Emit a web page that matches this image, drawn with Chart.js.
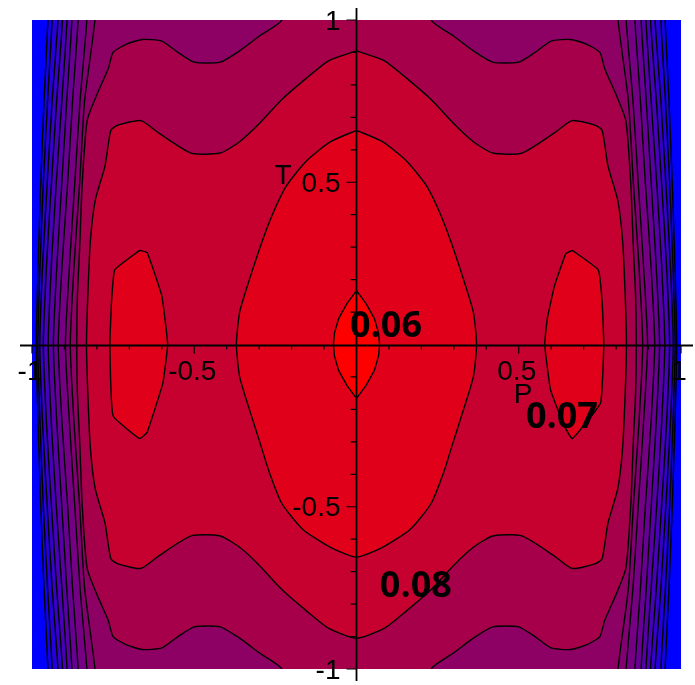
<!DOCTYPE html>
<html lang="en">
<head>
    <meta charset="UTF-8">
    <title>Contour plot of f(P, T)</title>
    <style>
        * {
            margin: 0;
            padding: 0;
            box-sizing: border-box;
        }

        body {
            background: #fff;
            width: 695px;
            height: 685px;
            overflow: hidden;
        }

        canvas {
            display: block;
        }
    </style>
    <script src="https://cdn.jsdelivr.net/npm/chart.js"></script>
</head>
<body>

    <canvas id="contourChart" width="695" height="685"></canvas>

    <script>
        // Outer contours: half-width in P of each level line, read at these T rows
        const rowT = [1, 0.75, 0.5, 0.25, 0, -0.25, -0.5, -0.75, -1];
        const edge1 = [0.951, 0.963, 0.973, 0.981, 0.987, 0.981, 0.973, 0.963, 0.951];
        const edge2 = [0.938, 0.952, 0.965, 0.975, 0.982, 0.975, 0.965, 0.952, 0.938];
        const edge3 = [0.920, 0.938, 0.953, 0.967, 0.976, 0.967, 0.953, 0.938, 0.920];
        const edge4 = [0.906, 0.924, 0.940, 0.955, 0.965, 0.955, 0.940, 0.924, 0.906];
        const edge5 = [0.892, 0.908, 0.925, 0.940, 0.950, 0.940, 0.925, 0.908, 0.892];
        const edge6 = [0.877, 0.893, 0.908, 0.923, 0.934, 0.923, 0.908, 0.893, 0.877];
        const edge7 = [0.858, 0.875, 0.890, 0.907, 0.919, 0.907, 0.890, 0.875, 0.858];
        const edge8 = [0.831, 0.852, 0.868, 0.884, 0.897, 0.884, 0.868, 0.852, 0.831];
        const edgeA = [0.806, 0.838, 0.853, 0.870, 0.882, 0.870, 0.853, 0.838, 0.806];

        // Wavy contours, right half [P, T] from top to bottom (left half is the mirror)
        const contourB = [
            [0.23, 1.0], [0.30, 0.95], [0.36, 0.905], [0.42, 0.87], [0.50, 0.87], [0.55, 0.90],
            [0.60, 0.935], [0.66, 0.94], [0.71, 0.925], [0.75, 0.90], [0.765, 0.85], [0.80, 0.77],
            [0.83, 0.69], [0.845, 0.50], [0.853, 0.30], [0.86, 0.15], [0.862, 0],
            [0.86, -0.15], [0.853, -0.30], [0.845, -0.50], [0.83, -0.69], [0.80, -0.77], [0.765, -0.85],
            [0.75, -0.90], [0.71, -0.925], [0.66, -0.94], [0.60, -0.935], [0.55, -0.90], [0.50, -0.87],
            [0.42, -0.87], [0.36, -0.905], [0.30, -0.95], [0.23, -1.0]
        ];
        const contourC = [
            [0, 0.905], [0.085, 0.875], [0.155, 0.82], [0.23, 0.755], [0.30, 0.68], [0.36, 0.625],
            [0.42, 0.59], [0.51, 0.59], [0.61, 0.652], [0.664, 0.69], [0.735, 0.676], [0.757, 0.66],
            [0.775, 0.55], [0.805, 0.445], [0.82, 0.32], [0.828, 0.15], [0.832, 0],
            [0.828, -0.15], [0.82, -0.32], [0.805, -0.445], [0.775, -0.55], [0.757, -0.66], [0.735, -0.676],
            [0.664, -0.69], [0.61, -0.652], [0.51, -0.59], [0.42, -0.59], [0.36, -0.625], [0.30, -0.68],
            [0.23, -0.755], [0.155, -0.82], [0.085, -0.875], [0, -0.905]
        ];
        const ellipse = [
            [0, 0.66], [0.08, 0.625], [0.155, 0.565], [0.215, 0.49], [0.255, 0.41], [0.29, 0.32],
            [0.33, 0.20], [0.36, 0.10], [0.37, 0], [0.36, -0.10], [0.33, -0.20], [0.295, -0.31],
            [0.27, -0.39], [0.23, -0.49], [0.165, -0.57], [0.08, -0.625], [0, -0.655]
        ];
        const lens = [
            [0, 0.166], [0.03, 0.125], [0.055, 0.08], [0.068, 0.035], [0.071, 0], [0.068, -0.035],
            [0.055, -0.08], [0.03, -0.125], [0, -0.166]
        ];

        // Side islands, full outlines
        const ovalLeft = [
            [-0.668, 0.29], [-0.645, 0.283], [-0.60, 0.15], [-0.582, 0], [-0.597, -0.12], [-0.645, -0.27],
            [-0.668, -0.29], [-0.75, -0.22], [-0.76, 0], [-0.755, 0.13], [-0.745, 0.23]
        ];
        const ovalRight = [
            [0.665, 0.29], [0.745, 0.23], [0.757, 0.13], [0.762, 0], [0.752, -0.18], [0.665, -0.29],
            [0.64, -0.25], [0.598, -0.14], [0.58, 0], [0.588, 0.08], [0.61, 0.18], [0.645, 0.28]
        ];

        // Fill colours from the outermost band inwards
        const outsideColor = '#0000ff';
        const bandColors = ['#1400ec', '#2600dc', '#3700cb', '#4800b8', '#5800a6', '#680094', '#760083',
            '#830073', '#8d0064', '#a7004b', '#c6002f', '#e0001a', '#e0001a', '#e0001a', '#ff0000'];

        const tickValues = [-1, -0.5, 0.5, 1];
        const tickText = ['-1', '-0.5', '0.5', '1'];
        const minorTicks = [-0.9, -0.8, -0.7, -0.6, -0.4, -0.3, -0.2, -0.1, 0.1, 0.2, 0.3, 0.4, 0.6, 0.7, 0.8, 0.9];

        const levelText = ['0.06', '0.07', '0.08'];
        const levelAt = [[0.091, 0.054], [0.633, -0.226], [0.183, -0.747]];

        // turn a right half into a closed outline; lines leaving the box are capped outside it
        function mirrored(half) {
            const right = half.map(p => [p[0], p[1]]);
            const first = right[0], last = right[right.length - 1];
            const capped = first[1] >= 1;
            if (capped) right.unshift([first[0], 1.1]);
            if (last[1] <= -1) right.push([last[0], -1.1]);
            const left = right.slice().reverse().filter(p => p[0] !== 0).map(p => [-p[0], p[1]]);
            const pts = right.concat(left);
            if (!capped) pts.push(pts[0]);
            return pts;
        }

        function closed(list) {
            return list.concat([list[0]]);
        }

        const outlines = [
            mirrored(rowT.map((t, i) => [edge1[i], t])),
            mirrored(rowT.map((t, i) => [edge2[i], t])),
            mirrored(rowT.map((t, i) => [edge3[i], t])),
            mirrored(rowT.map((t, i) => [edge4[i], t])),
            mirrored(rowT.map((t, i) => [edge5[i], t])),
            mirrored(rowT.map((t, i) => [edge6[i], t])),
            mirrored(rowT.map((t, i) => [edge7[i], t])),
            mirrored(rowT.map((t, i) => [edge8[i], t])),
            mirrored(rowT.map((t, i) => [edgeA[i], t])),
            mirrored(contourB),
            mirrored(contourC),
            mirrored(ellipse),
            closed(ovalLeft),
            closed(ovalRight),
            mirrored(lens)
        ];

        const datasets = outlines.map((pts, i) => ({
            data: pts.map(p => ({ x: p[0], y: p[1] })),
            backgroundColor: bandColors[i],
            borderColor: '#000',
            borderWidth: 1.4,
            fill: 'shape',
            tension: i === 14 ? 0 : (i >= 12 ? 0.1 : 0.2),
            pointRadius: 0,
            clip: 0,
            order: outlines.length - i
        }));

        // axes through the origin, Maple style
        const axesPlugin = {
            id: 'originAxes',
            beforeDraw(chart) {
                const { ctx, chartArea: a } = chart;
                ctx.save();
                ctx.fillStyle = outsideColor;
                ctx.fillRect(a.left, a.top, a.right - a.left, a.bottom - a.top);
                ctx.restore();
            },
            afterDraw(chart) {
                const { ctx, chartArea: a, scales: { x, y } } = chart;
                const x0 = x.getPixelForValue(0);
                const y0 = y.getPixelForValue(0) + 1;
                ctx.save();
                ctx.strokeStyle = '#000';
                ctx.lineWidth = 1.8;
                ctx.beginPath();
                ctx.moveTo(a.left - 12, y0);
                ctx.lineTo(a.right + 12, y0);
                ctx.moveTo(x0, a.top - 12);
                ctx.lineTo(x0, a.bottom + 12);
                ctx.stroke();

                ctx.lineWidth = 1.2;
                ctx.beginPath();
                minorTicks.forEach(v => {
                    const px = x.getPixelForValue(v);
                    const py = y.getPixelForValue(v);
                    ctx.moveTo(px, y0);
                    ctx.lineTo(px, y0 + 4);
                    ctx.moveTo(x0, py);
                    ctx.lineTo(x0 - 6, py);
                });
                tickValues.forEach(v => {
                    const px = x.getPixelForValue(v);
                    const py = y.getPixelForValue(v);
                    ctx.moveTo(px, y0);
                    ctx.lineTo(px, y0 + 8);
                    ctx.moveTo(x0, py);
                    ctx.lineTo(x0 - 10, py);
                });
                ctx.stroke();

                ctx.fillStyle = '#000';
                ctx.font = '28px "Liberation Sans", Arial, sans-serif';
                ctx.textBaseline = 'middle';
                ctx.textAlign = 'center';
                tickValues.forEach((v, i) => {
                    ctx.fillText(tickText[i], x.getPixelForValue(v) - 2, y0 + 27);
                });
                ctx.textAlign = 'right';
                tickValues.forEach((v, i) => {
                    ctx.fillText(tickText[i], x0 - 16, y.getPixelForValue(v) + 2);
                });
                ctx.textAlign = 'center';
                ctx.fillText('T', x.getPixelForValue(-0.226), y.getPixelForValue(0.519));
                ctx.fillText('P', x.getPixelForValue(0.513), y.getPixelForValue(-0.155));

                ctx.font = 'bold 36px "Open Sans", sans-serif';
                levelText.forEach((t, i) => {
                    ctx.fillText(t, x.getPixelForValue(levelAt[i][0]), y.getPixelForValue(levelAt[i][1]));
                });
                ctx.restore();
            }
        };

        new Chart(document.getElementById('contourChart'), {
            type: 'line',
            data: { datasets },
            options: {
                responsive: false,
                animation: false,
                devicePixelRatio: 1,
                layout: { padding: { left: 32, right: 14, top: 20, bottom: 16 } },
                elements: { line: { capBezierPoints: false } },
                scales: {
                    x: { type: 'linear', min: -1, max: 1, display: false },
                    y: { type: 'linear', min: -1, max: 1, display: false }
                },
                plugins: {
                    legend: { display: false },
                    tooltip: { enabled: false },
                    filler: { drawTime: 'beforeDatasetsDraw' }
                }
            },
            plugins: [axesPlugin]
        });
    </script>

</body>
</html>
